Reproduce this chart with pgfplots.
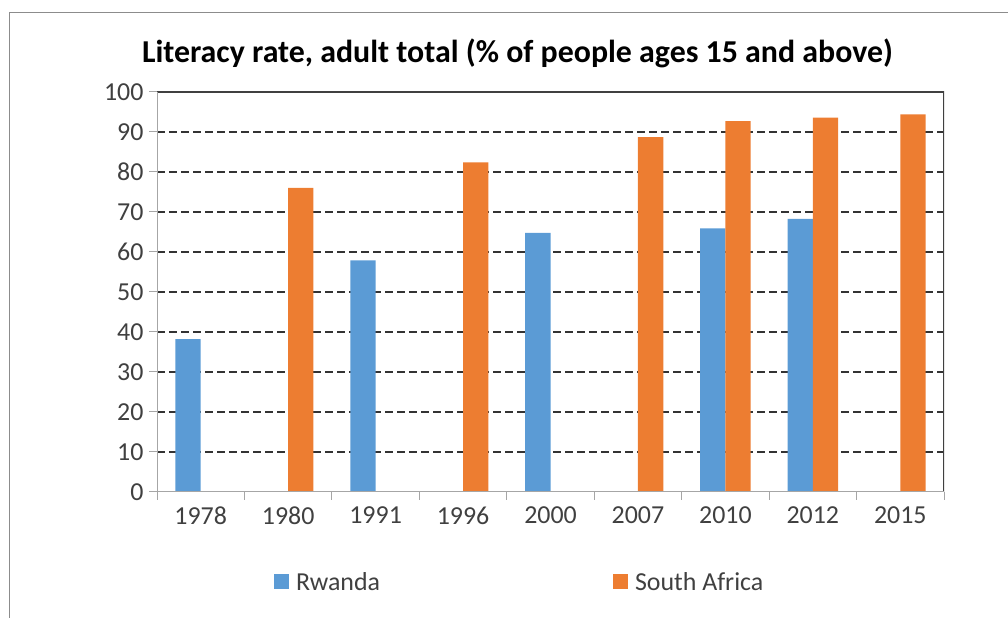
\documentclass[border=0pt]{standalone}
\usepackage{pgfplots}
\pgfplotsset{compat=1.18}
\usepackage{fontspec}
\setmainfont{Carlito}
\definecolor{rw}{HTML}{5B9BD5}
\definecolor{sa}{HTML}{ED7D31}
\definecolor{axgray}{HTML}{A6A6A6}
\definecolor{framegray}{HTML}{8C8C8C}
\definecolor{txt}{HTML}{404040}
\pgfplotstableread{
x  rw    sa
0  38.2  nan
1  nan   76.0
2  57.9  nan
3  nan   82.4
4  64.8  nan
5  nan   88.7
6  65.9  92.7
7  68.3  93.6
8  nan   94.4
}\lit
\begin{document}
\begin{tikzpicture}[x=1bp,y=1bp]
\path[use as bounding box] (0,0) rectangle (1008,618);
\draw[color=framegray, line width=1.3bp] (9.5,0) -- (9.5,605.7) -- (1008,605.7);
\node[anchor=base, font=\fontsize{32}{38}\selectfont\bfseries, text=black] at (517.5,555) {Literacy rate, adult total (\% of people ages 15 and above)};
\begin{axis}[
  at={(157bp,126bp)}, anchor=south west,
  scale only axis, width=787bp, height=400bp,
  ymin=0, ymax=100, ytick={10,20,...,90},
  extra y ticks={0,100},
  extra y tick style={grid=none, tick align=outside, ytick pos=left},
  xmin=-0.5, xmax=8.5,
  xtick={0,...,8},
  xticklabels={1978,1980,1991,1996,2000,2007,2010,2012,2015},
  x tick style={draw=none},
  extra x ticks={-0.5,0.5,...,8.5},
  extra x tick labels={},
  extra x tick style={x tick style={draw=axgray, line width=1bp}, grid=none, tick align=outside, xtick pos=bottom},
  y tick style={draw=axgray, line width=1bp},
  tick align=outside, major tick length=8bp,
  xtick pos=bottom, ytick pos=left,
  axis line style={draw=none},
  ymajorgrids,
  major grid style={draw=black!80, line width=1.3bp, dash pattern=on 7.5bp off 4.5bp},
  ticklabel style={font=\fontsize{26}{30}\selectfont, text=txt},
  /pgf/number format/assume math mode=true,
  xticklabel style={yshift=-3bp},
  yticklabel style={xshift=-2bp},
  ybar=0pt, bar width=25.3bp,
  legend columns=2,
  legend style={draw=none, fill=none, at={(0,0)}, anchor=west,
    xshift=114bp, yshift=-90bp,
    font=\fontsize{26}{30}\selectfont, text=txt,
    /tikz/every even column/.append style={column sep=231bp}},
  legend image code/.code={\fill[#1,draw=none] (0bp,-7.5bp) rectangle (15bp,7.5bp);\path (20bp,0bp);},
]
\addplot[fill=rw, draw=none] table[x=x, y=rw] {\lit};
\addlegendentry{Rwanda}
\addplot[fill=sa, draw=none] table[x=x, y=sa] {\lit};
\addlegendentry{South Africa}
\draw[black!75, line width=1.3bp] (rel axis cs:0,1) -- (rel axis cs:1,1) -- (rel axis cs:1,0);
\draw[axgray, line width=1.3bp] (rel axis cs:0,1) -- (rel axis cs:0,0) -- (rel axis cs:1,0);
\end{axis}
\end{tikzpicture}
\end{document}
